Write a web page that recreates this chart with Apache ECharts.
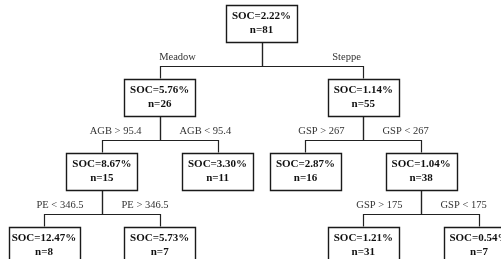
<!DOCTYPE html>
<html>
<head>
<meta charset="utf-8">
<script src="https://cdn.jsdelivr.net/npm/echarts@6/dist/echarts.min.js"></script>
<style>
html, body { margin: 0; padding: 0; background: #fff; }
#tree { width: 501px; height: 259px; }
</style>
</head>
<body>
<div id="tree"></div>
<script>
// 节点数据, 每层从左到右
var socValues = [2.22, 5.76, 1.14, 8.67, 3.30, 2.87, 1.04, 12.47, 5.73, 1.21, 0.54];
var sampleCounts = [81, 26, 55, 15, 11, 16, 38, 8, 7, 31, 7];
var parentIndex = [-1, 0, 0, 1, 1, 2, 2, 3, 3, 6, 6];
var splitLabels = ['', 'Meadow', 'Steppe', 'AGB > 95.4', 'AGB < 95.4', 'GSP > 267', 'GSP < 267',
    'PE < 346.5', 'PE > 346.5', 'GSP > 175', 'GSP < 175'];

var BOX_W = 71, BOX_H = 37;
var SEP_SIBLING = 1, SEP_OTHER = 0.76;

// 建树
function buildTree() {
    var nodes = socValues.map(function (v, i) {
        return { idx: i, children: [], x: 0, depth: 0 };
    });
    nodes.forEach(function (nd, i) {
        if (parentIndex[i] >= 0) nodes[parentIndex[i]].children.push(nd);
    });
    return nodes;
}

function shiftTree(node, s) {
    node.x += s;
    node.children.forEach(function (c) { shiftTree(c, s); });
}

// 简单的整齐树布局 (轮廓法)
function layoutTree(node, depth) {
    node.depth = depth;
    if (!node.children.length) {
        node.x = 0;
        return [[0, 0]];
    }
    var contour = null;
    node.children.forEach(function (kid) {
        var c = layoutTree(kid, depth + 1);
        var s = 0;
        if (contour) {
            s = -Infinity;
            for (var d = 0; d < Math.min(contour.length, c.length); d++) {
                var sep = d === 0 ? SEP_SIBLING : SEP_OTHER;
                s = Math.max(s, contour[d][1] + sep - c[d][0]);
            }
        }
        shiftTree(kid, s);
        c = c.map(function (r) { return [r[0] + s, r[1] + s]; });
        if (!contour) {
            contour = c;
        } else {
            for (var k = 0; k < c.length; k++) {
                if (k < contour.length) contour[k][1] = c[k][1];
                else contour.push(c[k]);
            }
        }
    });
    var kids = node.children;
    node.x = (kids[0].x + kids[kids.length - 1].x) / 2;
    return [[node.x, node.x]].concat(contour);
}

var nodes = buildTree();
layoutTree(nodes[0], 0);
var minX = Math.min.apply(null, nodes.map(function (n) { return n.x; }));
nodes.forEach(function (n) { n.x -= minX; });

var nodeData = nodes.map(function (n) { return [n.x, n.depth, n.idx]; });
var edgeData = nodes.filter(function (n) { return parentIndex[n.idx] >= 0; }).map(function (n) {
    var p = nodes[parentIndex[n.idx]];
    return [n.x, n.depth, p.x, p.depth, n.idx];
});

function renderNode(params, api) {
    var i = api.value(2);
    var pt = api.coord([api.value(0), api.value(1)]);
    var font = 'bold 11px "Liberation Serif"';
    return {
        type: 'group',
        children: [
            {
                type: 'rect',
                shape: { x: Math.round(pt[0] - BOX_W / 2) + 0.5, y: Math.round(pt[1] - BOX_H / 2) + 0.5, width: BOX_W, height: BOX_H },
                style: { fill: '#fff', stroke: '#1a1a1a', lineWidth: 1.4 }
            },
            {
                type: 'text',
                style: { text: 'SOC=' + socValues[i].toFixed(2) + '%', x: pt[0], y: pt[1] - 7, align: 'center', verticalAlign: 'middle', font: font, fill: '#111' }
            },
            {
                type: 'text',
                style: { text: 'n=' + sampleCounts[i], x: pt[0], y: pt[1] + 7, align: 'center', verticalAlign: 'middle', font: font, fill: '#111' }
            }
        ]
    };
}

function renderEdge(params, api) {
    var i = api.value(4);
    var c = api.coord([api.value(0), api.value(1)]);
    var p = api.coord([api.value(2), api.value(3)]);
    var cx = Math.round(c[0]) + 0.5, px = Math.round(p[0]) + 0.5;
    var ey = Math.round(c[1] - BOX_H / 2 - 13) + 0.5;
    var left = c[0] < p[0];
    var lx, align;
    // 第一层标签靠近子节点, 其余靠近父节点
    if (api.value(1) === 1) {
        lx = cx + (left ? 17 : -17);
        align = 'center';
    } else {
        lx = px + (left ? -19 : 19);
        align = left ? 'right' : 'left';
    }
    return {
        type: 'group',
        children: [
            {
                type: 'polyline',
                shape: { points: [[px, p[1] + BOX_H / 2], [px, ey], [cx, ey], [cx, c[1] - BOX_H / 2]] },
                style: { stroke: '#222', lineWidth: 1.2, fill: 'none' }
            },
            {
                type: 'text',
                style: { text: splitLabels[i], x: lx, y: ey - 9, align: align, verticalAlign: 'middle', font: '10.5px "Liberation Serif"', fill: '#333' }
            }
        ]
    };
}

var myChart = echarts.init(document.getElementById('tree'));
var option = {
    animation: false,
    backgroundColor: '#fff',
    grid: { left: 44, right: 22, top: 23, bottom: 14 },
    xAxis: { type: 'value', show: false, min: 'dataMin', max: 'dataMax' },
    yAxis: { type: 'value', show: false, inverse: true, min: 0, max: 'dataMax' },
    series: [
        {
            type: 'custom',
            renderItem: renderEdge,
            data: edgeData,
            encode: { x: [0, 2], y: [1, 3] },
            clip: false,
            silent: true,
            z: 1
        },
        {
            type: 'custom',
            renderItem: renderNode,
            data: nodeData,
            encode: { x: 0, y: 1 },
            clip: false,
            silent: true,
            z: 2
        }
    ]
};
myChart.setOption(option);
</script>
</body>
</html>
